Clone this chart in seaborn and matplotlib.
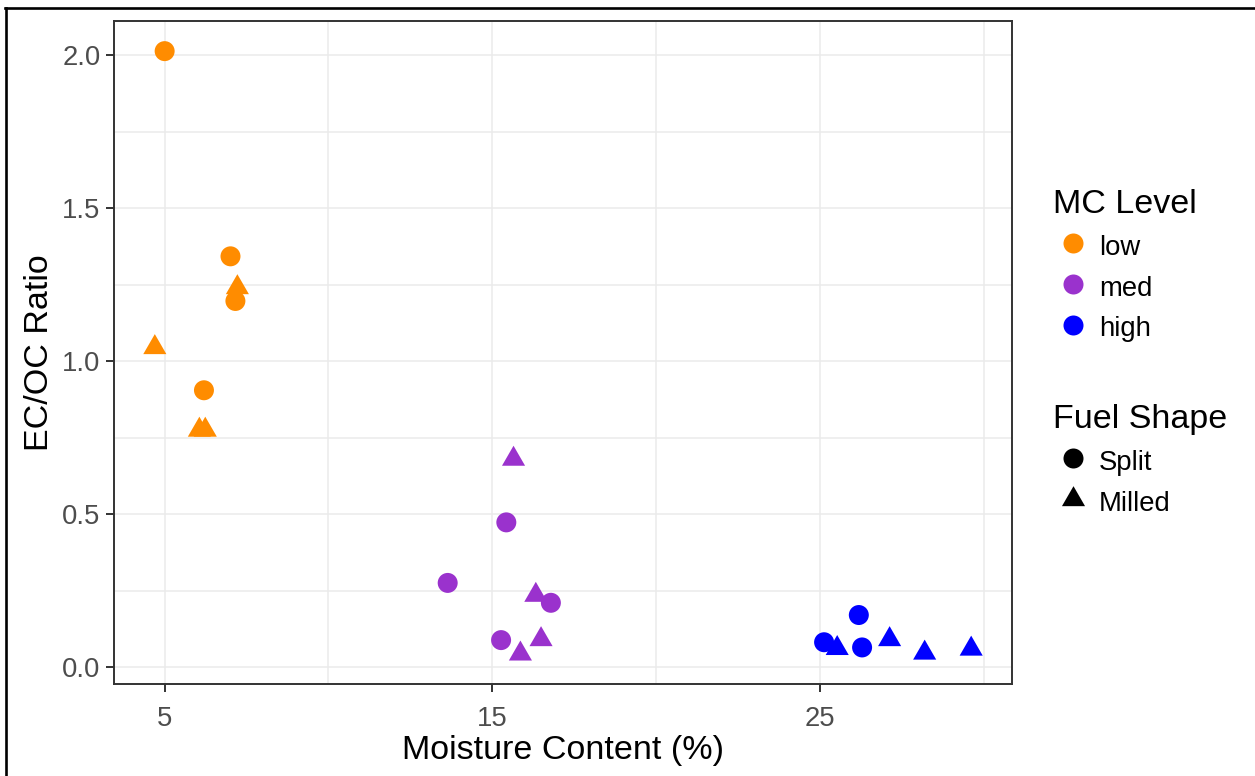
import matplotlib
matplotlib.use("Agg")
import matplotlib.pyplot as plt
from matplotlib.path import Path
from matplotlib.lines import Line2D
from matplotlib.ticker import MultipleLocator, FormatStrFormatter
import pandas as pd
import seaborn as sns

# EC/OC ratio against moisture content, per MC level and fuel shape
low_split_mc = [5.00, 7.01, 7.16, 6.20]
low_split_ratio = [2.014, 1.343, 1.197, 0.905]
low_milled_mc = [7.22, 4.70, 6.06, 6.24]
low_milled_ratio = [1.241, 1.045, 0.775, 0.775]

med_split_mc = [15.43, 13.64, 16.79, 15.27]
med_split_ratio = [0.473, 0.275, 0.210, 0.088]
med_milled_mc = [15.65, 16.33, 16.49, 15.86]
med_milled_ratio = [0.680, 0.235, 0.090, 0.043]

high_split_mc = [26.19, 25.13, 26.29]
high_split_ratio = [0.170, 0.081, 0.064]
high_milled_mc = [25.53, 27.13, 28.20, 29.62]
high_milled_ratio = [0.061, 0.090, 0.046, 0.059]

levels = ["low", "med", "high"]
shapes = ["Split", "Milled"]
level_colors = ["#FF8C00", "#9A32CD", "#0000FF"]

groups = [
    ("low", "Split", low_split_mc, low_split_ratio),
    ("low", "Milled", low_milled_mc, low_milled_ratio),
    ("med", "Split", med_split_mc, med_split_ratio),
    ("med", "Milled", med_milled_mc, med_milled_ratio),
    ("high", "Split", high_split_mc, high_split_ratio),
    ("high", "Milled", high_milled_mc, high_milled_ratio),
]
rows = []
for lvl, shp, xs, ys in groups:
    for x, y in zip(xs, ys):
        rows.append({"mc": x, "ratio": y, "level": lvl, "shape": shp})
df = pd.DataFrame(rows)

plt.rcParams["font.family"] = ["Liberation Sans", "DejaVu Sans"]

W, H = 1255, 776
fig = plt.figure(figsize=(W / 100, H / 100), dpi=100)
ax = fig.add_axes([114 / W, 1 - 684 / H, (1012 - 114) / W, (684 - 21) / H])

# filled triangle centred on its centroid
tri = Path([(0, 1), (-0.866, -0.5), (0.866, -0.5), (0, 1)],
           [Path.MOVETO, Path.LINETO, Path.LINETO, Path.CLOSEPOLY])

sns.scatterplot(
    data=df, x="mc", y="ratio",
    hue="level", hue_order=levels, palette=dict(zip(levels, level_colors)),
    style="shape", style_order=shapes, markers={"Split": "o", "Milled": tri},
    size="shape", sizes={"Split": 207, "Milled": 369},
    linewidth=0, legend=False, ax=ax, zorder=3,
)

# 5% expansion on both axes
xmin, xmax = df["mc"].min(), df["mc"].max()
ymin, ymax = df["ratio"].min(), df["ratio"].max()
ax.set_xlim(xmin - 0.05 * (xmax - xmin), xmax + 0.05 * (xmax - xmin))
ax.set_ylim(ymin - 0.05 * (ymax - ymin), ymax + 0.05 * (ymax - ymin))

ax.xaxis.set_major_locator(MultipleLocator(10, offset=5))
ax.xaxis.set_minor_locator(MultipleLocator(5))
ax.yaxis.set_major_locator(MultipleLocator(0.5))
ax.yaxis.set_minor_locator(MultipleLocator(0.25))
ax.yaxis.set_major_formatter(FormatStrFormatter("%.1f"))

ax.set_facecolor("white")
for sp in ax.spines.values():
    sp.set_color("#333333")
    sp.set_linewidth(1.4)
ax.tick_params(which="major", length=5.8, width=1.4, color="#333333",
               labelcolor="#4D4D4D", labelsize=19.8, pad=4)
ax.tick_params(axis="x", which="major", pad=10)
ax.tick_params(which="minor", length=0)
ax.grid(which="both", color="#EBEBEB", linewidth=1.1)
ax.set_axisbelow(True)

ax.set_xlabel("Moisture Content (%)", fontsize=24.5, color="black", labelpad=2)
ax.set_ylabel("EC/OC Ratio", fontsize=24.5, color="black", labelpad=5)

# legends
color_handles = [Line2D([], [], linestyle="", marker="o", markersize=14.4,
                        markerfacecolor=c, markeredgewidth=0) for c in level_colors]
shape_handles = [
    Line2D([], [], linestyle="", marker="o", markersize=14.4,
           markerfacecolor="black", markeredgewidth=0),
    Line2D([], [], linestyle="", marker=tri, markersize=19.2,
           markerfacecolor="black", markeredgewidth=0),
]
common = dict(loc="upper left", frameon=False, alignment="left", fontsize=19.8,
              title_fontsize=24.5, handlelength=1.45, handletextpad=0.22,
              handleheight=1.15, labelspacing=0.43, borderpad=0, borderaxespad=0)
fig.legend(color_handles, levels, title="MC Level",
           bbox_to_anchor=(1053 / W, 1 - 189 / H), **common)
fig.legend(shape_handles, shapes, title="Fuel Shape",
           bbox_to_anchor=(1053 / W, 1 - 404 / H), **common)

# outer frame
fig.add_artist(Line2D([5 / W, 1], [1 - 7.5 / H, 1 - 7.5 / H],
                      transform=fig.transFigure, color="black", linewidth=1.9))
fig.add_artist(Line2D([6.3 / W, 6.3 / W], [0, 1 - 7.5 / H],
                      transform=fig.transFigure, color="black", linewidth=1.9))

fig.savefig("out.png", dpi=100)
